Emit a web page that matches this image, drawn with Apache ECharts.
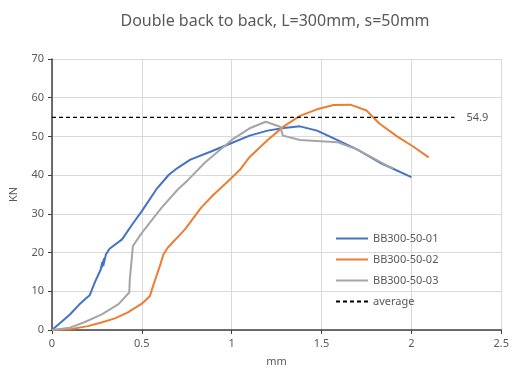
<!DOCTYPE html>
<html>
<head>
<meta charset="utf-8">
<script src="https://cdn.jsdelivr.net/npm/echarts@6/dist/echarts.min.js"></script>
<style>
html, body { margin: 0; padding: 0; background: #fff; }
#chart { width: 512px; height: 372px; }
</style>
</head>
<body>
<div id="chart"></div>
<script>
// 读图得到的数据
var names = ['BB300-50-01', 'BB300-50-02', 'BB300-50-03', 'average'];

var x01 = [0, 0.05, 0.1, 0.15, 0.19, 0.21, 0.24, 0.27, 0.28, 0.275, 0.29, 0.285, 0.3, 0.32, 0.39, 0.45, 0.5, 0.58, 0.63, 0.65, 0.7, 0.77, 0.885, 1.0, 1.1, 1.2, 1.29, 1.38, 1.475, 1.586, 1.7, 1.825, 2.0];
var y01 = [0, 2, 4, 6.5, 8.2, 9, 12.5, 15.5, 17.5, 16, 18.5, 16.5, 19.5, 21, 23.4, 27.5, 30.7, 36.3, 39, 40.1, 41.9, 44, 46.1, 48.3, 50.2, 51.5, 52.2, 52.6, 51.5, 49.1, 46.6, 43.2, 39.5];

var x02 = [0, 0.1, 0.2, 0.28, 0.35, 0.42, 0.5, 0.545, 0.56, 0.575, 0.6, 0.62, 0.645, 0.74, 0.83, 0.9, 0.98, 1.05, 1.1, 1.2, 1.29, 1.38, 1.475, 1.567, 1.66, 1.75, 1.82, 1.92, 2.01, 2.096];
var y02 = [0, 0.2, 1.0, 2.0, 3.0, 4.5, 6.8, 8.8, 11, 13.1, 16.5, 19.5, 21.3, 26, 31.6, 35, 38.4, 41.6, 44.7, 49.1, 52.6, 55.3, 57, 58.1, 58.2, 56.7, 53.4, 50, 47.4, 44.6];

var x03 = [0, 0.1, 0.18, 0.28, 0.37, 0.43, 0.433, 0.442, 0.45, 0.5, 0.61, 0.7, 0.76, 0.85, 1.0, 1.1, 1.19, 1.27, 1.285, 1.38, 1.59, 1.7, 1.88, 1.9];
var y03 = [0, 0.6, 2, 4.1, 6.7, 9.7, 13.1, 17.4, 21.7, 25.1, 31.6, 36.3, 38.9, 43.2, 49.1, 52.1, 53.8, 52.5, 50.2, 49.1, 48.5, 46.6, 42.1, 41.8];

var avgX = [0, 2.24];
var avgY = 54.9;

function pairs(xs, ys) {
    var list = [];
    for (var i = 0; i < xs.length; i++) {
        list.push([xs[i], ys[i]]);
    }
    return list;
}

var chart = echarts.init(document.getElementById('chart'));
var textColor = '#595959';
var font = '"Noto Sans", "DejaVu Sans", sans-serif';

var option = {
    animation: false,
    textStyle: { fontFamily: font },
    title: {
        text: 'Double back to back, L=300mm, s=50mm',
        left: 270,
        textAlign: 'center',
        top: 8,
        textStyle: { color: textColor, fontSize: 16, fontWeight: 'normal', fontFamily: font }
    },
    color: ['#4472C4', '#ED7D31', '#A5A5A5', '#000'],
    legend: {
        orient: 'vertical',
        left: 330,
        top: 228,
        itemWidth: 32,
        itemHeight: 10,
        itemGap: 10,
        itemStyle: { opacity: 0 },
        textStyle: { color: textColor, fontSize: 11, fontFamily: font },
        data: names
    },
    grid: { left: 50, right: 10, top: 59, bottom: 41 },
    xAxis: {
        type: 'value',
        min: 0,
        max: 2.5,
        interval: 0.5,
        name: 'mm',
        nameLocation: 'middle',
        nameGap: 26,
        nameTextStyle: { color: textColor, fontSize: 11 },
        axisLine: { show: true, lineStyle: { color: '#404040', width: 1.5 } },
        axisTick: { show: true, length: 4, lineStyle: { color: '#404040' } },
        axisLabel: { color: textColor, fontSize: 11, margin: 8 },
        splitLine: { show: true, lineStyle: { color: '#d9d9d9' } }
    },
    yAxis: {
        type: 'value',
        min: 0,
        max: 70,
        interval: 10,
        name: 'KN',
        nameLocation: 'middle',
        nameGap: 33,
        nameTextStyle: { color: textColor, fontSize: 11 },
        axisLine: { show: true, lineStyle: { color: '#404040', width: 1.5 } },
        axisTick: { show: true, length: 4, lineStyle: { color: '#404040' } },
        axisLabel: { color: textColor, fontSize: 11, margin: 8 },
        splitLine: { show: true, lineStyle: { color: '#d9d9d9' } }
    },
    series: [{
        name: names[0],
        type: 'line',
        symbol: 'none',
        lineStyle: { width: 2 },
        data: pairs(x01, y01)
    }, {
        name: names[1],
        type: 'line',
        symbol: 'none',
        lineStyle: { width: 2 },
        data: pairs(x02, y02)
    }, {
        name: names[2],
        type: 'line',
        symbol: 'none',
        lineStyle: { width: 2 },
        data: pairs(x03, y03)
    }, {
        name: names[3],
        type: 'line',
        symbol: 'none',
        lineStyle: { width: 1.2, type: [4, 3], color: '#000' },
        endLabel: {
            show: true,
            formatter: String(avgY),
            color: textColor,
            fontSize: 11,
            distance: 12
        },
        data: avgX.map(function (x) { return [x, avgY]; })
    }]
};

chart.setOption(option);
</script>
</body>
</html>
